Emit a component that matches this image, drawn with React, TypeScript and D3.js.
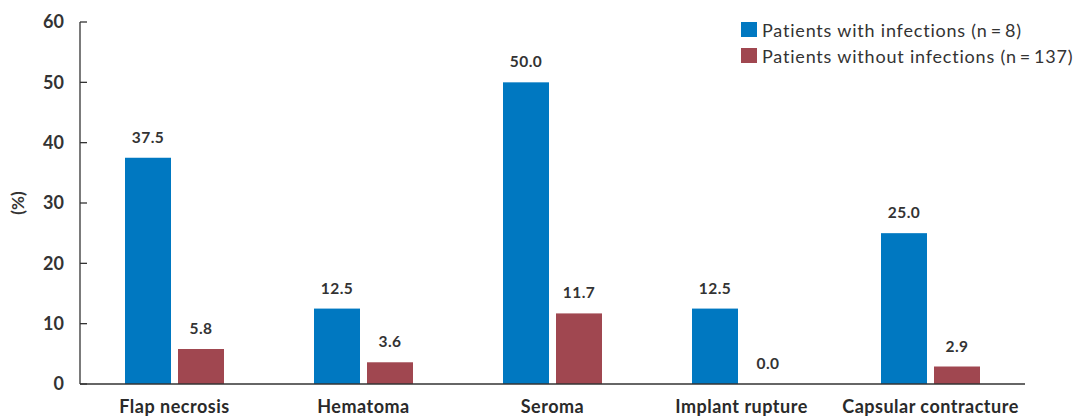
import React from "react";
import * as d3 from "d3";

const categories = ["Flap necrosis", "Hematoma", "Seroma", "Implant rupture", "Capsular contracture"];
const withInfections = [37.5, 12.5, 50.0, 12.5, 25.0];
const withoutInfections = [5.8, 3.6, 11.7, 0.0, 2.9];
const seriesNames = ["Patients with infections (n\u2009=\u20098)", "Patients without infections (n\u2009=\u2009137)"];
const yTicks = [0, 10, 20, 30, 40, 50, 60];
const colors = ["#0078c1", "#a04750"];

const W = 1078, H = 418;
const left = 80, right = 1025, top = 22, bottom = 384;
const FONT = "Lato, 'Noto Sans', sans-serif";

export default function App() {
  const x = d3.scaleBand<string>().domain(categories).range([left, right]).paddingInner(0).paddingOuter(0);
  const y = d3.scaleLinear().domain([0, 60]).range([bottom, top]);
  const barW = 46, gap = 7;
  const groupW = barW * 2 + gap;
  const series = [withInfections, withoutInfections];

  return (
    <svg width={W} height={H} style={{ position: "absolute", left: 0, top: 0 }} fontFamily={FONT}>
      <rect width={W} height={H} fill="#fff" />
      {/* y axis */}
      <line x1={left} x2={left} y1={top} y2={bottom} stroke="#333" strokeWidth={1.3} />
      {yTicks.map((t) => (
        <g key={t}>
          <line x1={left} x2={left + 7} y1={y(t)} y2={y(t)} stroke="#333" strokeWidth={1.3} />
          <text x={64} y={y(t)} dy="0.36em" textAnchor="end" fontSize={18} fontWeight={700} fill="#333">
            {t}
          </text>
        </g>
      ))}
      <text transform={`translate(24,${(top + bottom) / 2}) rotate(-90)`} textAnchor="middle" fontSize={17} fontWeight={700} fill="#333">
        (%)
      </text>
      {/* bars */}
      {categories.map((c, i) => {
        const gx = (x(c) as number) + x.bandwidth() / 2 - groupW / 2;
        return (
          <g key={c}>
            {series.map((s, k) => {
              const bx = gx + k * (barW + gap);
              const v = s[i];
              return (
                <g key={k}>
                  {v > 0 && <rect x={bx} y={y(v)} width={barW} height={bottom - y(v)} fill={colors[k]} />}
                  <text x={bx + barW / 2} y={y(v) - 15} textAnchor="middle" fontSize={15.5} letterSpacing={0.5} fontWeight={700} fill="#333">
                    {v.toFixed(1)}
                  </text>
                </g>
              );
            })}
            <text x={(x(c) as number) + x.bandwidth() / 2} y={413} textAnchor="middle" fontSize={18} letterSpacing={0.5} fontWeight={700} fill="#2a2a2a">
              {c}
            </text>
          </g>
        );
      })}
      {/* x axis */}
      <line x1={left} x2={right} y1={bottom} y2={bottom} stroke="#333" strokeWidth={1.3} />
      {/* legend */}
      {seriesNames.map((n, k) => (
        <g key={n}>
          <rect x={741} y={22 + k * 26} width={16} height={15} fill={colors[k]} />
          <text x={762} y={37 + k * 25.5} fontSize={18} letterSpacing={0.8} fill="#333">
            {n}
          </text>
        </g>
      ))}
    </svg>
  );
}
